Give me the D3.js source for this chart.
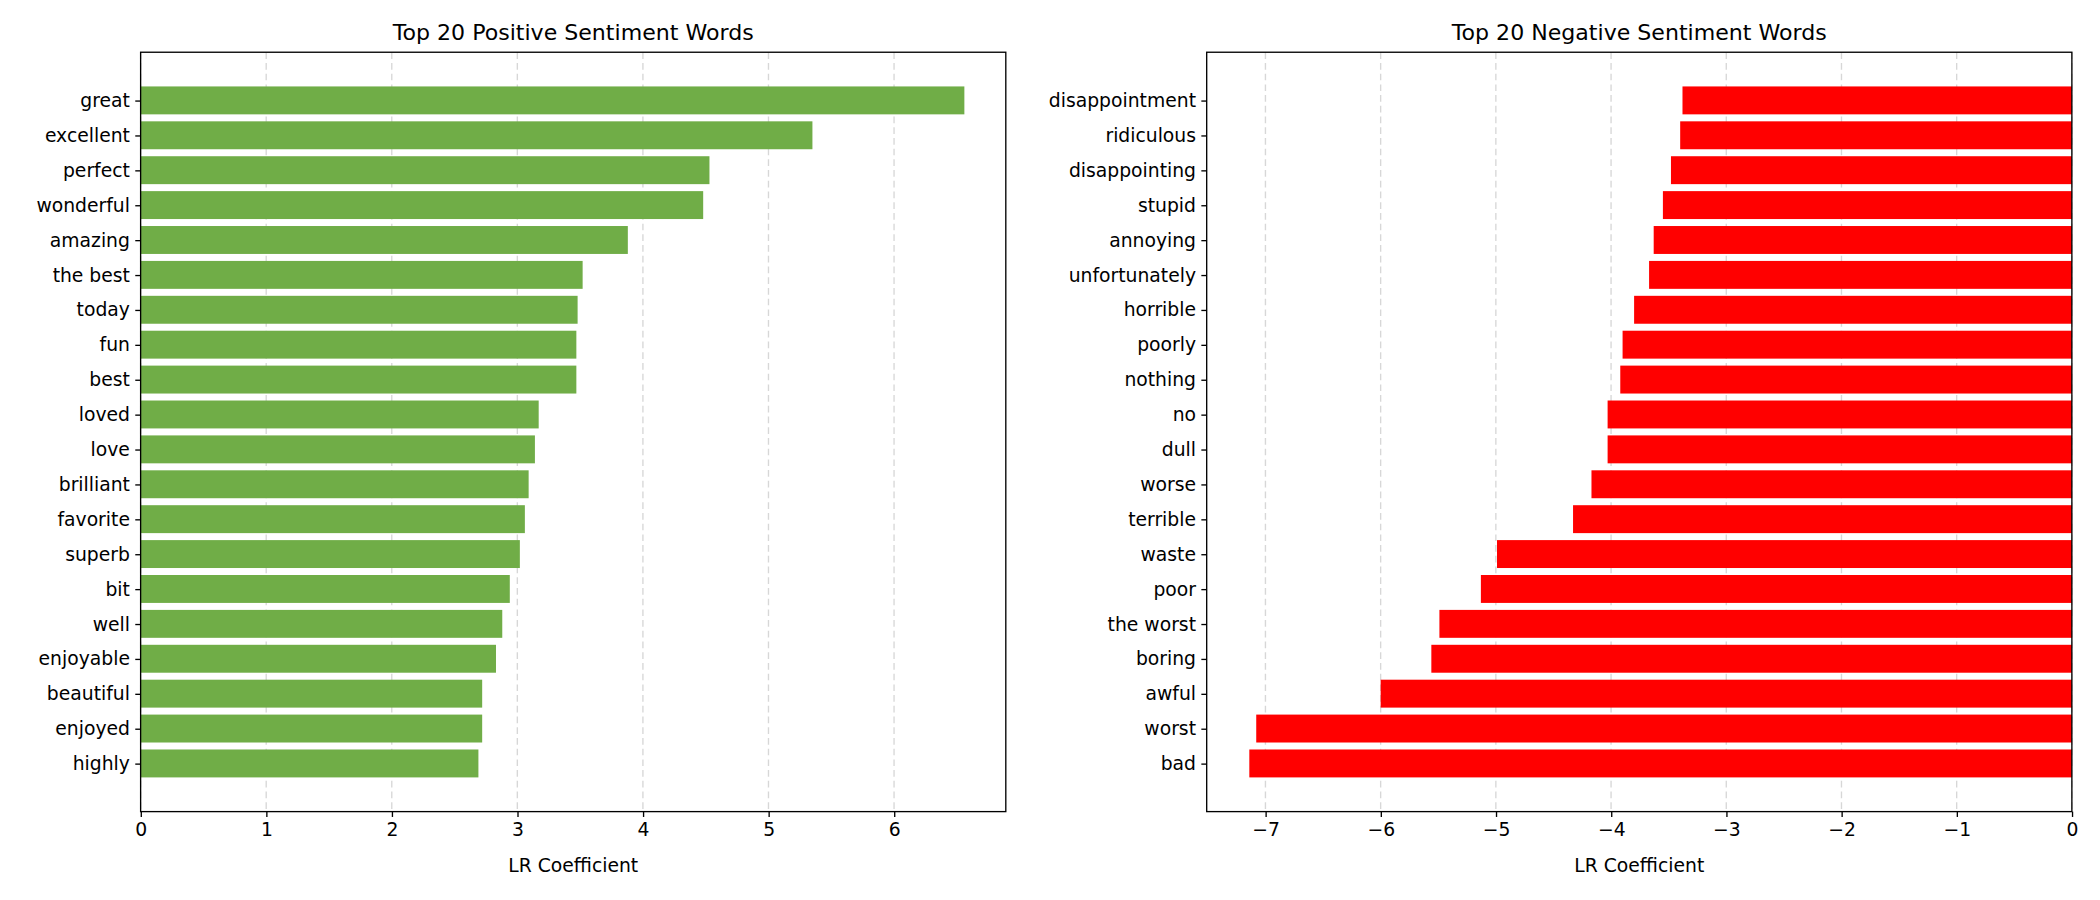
<!DOCTYPE html>
<html><head><meta charset="utf-8">
<script src="https://cdn.jsdelivr.net/npm/d3@7"></script>
<style>body{margin:0;background:#fff}text{font-family:"DejaVu Sans",sans-serif}</style>
</head><body>
<script>
var posWords = ["great","excellent","perfect","wonderful","amazing","the best","today","fun","best","loved","love","brilliant","favorite","superb","bit","well","enjoyable","beautiful","enjoyed","highly"];
var posValues = [6.56,5.35,4.53,4.48,3.88,3.52,3.48,3.47,3.47,3.17,3.14,3.09,3.06,3.02,2.94,2.88,2.83,2.72,2.72,2.69];
var negWords = ["disappointment","ridiculous","disappointing","stupid","annoying","unfortunately","horrible","poorly","nothing","no","dull","worse","terrible","waste","poor","the worst","boring","awful","worst","bad"];
var negValues = [-3.38,-3.40,-3.48,-3.55,-3.63,-3.67,-3.80,-3.90,-3.92,-4.03,-4.03,-4.17,-4.33,-4.99,-5.13,-5.49,-5.56,-6.00,-7.08,-7.14];
var posTicks = [0,1,2,3,4,5,6];
var negTicks = [-7,-6,-5,-4,-3,-2,-1,0];

var svg = d3.select("body").append("svg")
    .attr("width", 2100).attr("height", 900)
    .attr("viewBox", "0 0 1568 672");

var plotTop = 39, plotBottom = 606;

function panel(x0, x1, words, values, domain, ticks, color, title) {
    var x = d3.scaleLinear().domain(domain).range([x0, x1]);
    // matplotlib-style y: categories at integer positions, padding ~1.38
    var y = d3.scaleLinear().domain([-1.38, words.length - 1 + 1.38]).range([plotTop, plotBottom]);
    var g = svg.append("g");

    g.append("g").selectAll("line").data(ticks).enter().append("line")
        .attr("x1", d => x(d)).attr("x2", d => x(d))
        .attr("y1", plotTop).attr("y2", plotBottom)
        .attr("stroke", "#b0b0b0").attr("stroke-opacity", 0.5)
        .attr("stroke-dasharray", "5,3").attr("stroke-width", 1);

    g.append("g").selectAll("rect").data(values).enter().append("rect")
        .attr("x", d => x(Math.min(0, d)))
        .attr("width", d => Math.abs(x(d) - x(0)))
        .attr("y", (d, i) => y(i - 0.4))
        .attr("height", y(0.4) - y(-0.4))
        .attr("fill", color);

    g.append("rect").attr("x", x0).attr("y", plotTop)
        .attr("width", x1 - x0).attr("height", plotBottom - plotTop)
        .attr("fill", "none").attr("stroke", "#000").attr("stroke-width", 1);

    var yAxis = d3.axisLeft(y).tickValues(d3.range(words.length))
        .tickFormat(i => words[i]).tickSize(4).tickPadding(4);
    g.append("g").attr("transform", "translate(" + x0 + ",0)").call(yAxis)
        .call(a => a.select(".domain").remove())
        .selectAll("text").attr("font-size", 14).attr("fill", "#000");

    var xAxis = d3.axisBottom(x).tickValues(ticks)
        .tickFormat(d => d < 0 ? "\u2212" + Math.abs(d) : d).tickSize(4).tickPadding(4);
    g.append("g").attr("transform", "translate(0," + plotBottom + ")").call(xAxis)
        .call(a => a.select(".domain").remove())
        .selectAll("text").attr("font-size", 14).attr("fill", "#000");

    g.append("text").attr("x", (x0 + x1) / 2).attr("y", 651)
        .attr("text-anchor", "middle").attr("font-size", 14).text("LR Coefficient");
    g.append("text").attr("x", (x0 + x1) / 2).attr("y", 30)
        .attr("text-anchor", "middle").attr("font-size", 16.5).text(title);
}

panel(105, 751, posWords, posValues, [0, 6.89], posTicks, "#70ad47", "Top 20 Positive Sentiment Words");
panel(901, 1547, negWords, negValues, [-7.51, 0], negTicks, "#ff0000", "Top 20 Negative Sentiment Words");
</script>
</body></html>
